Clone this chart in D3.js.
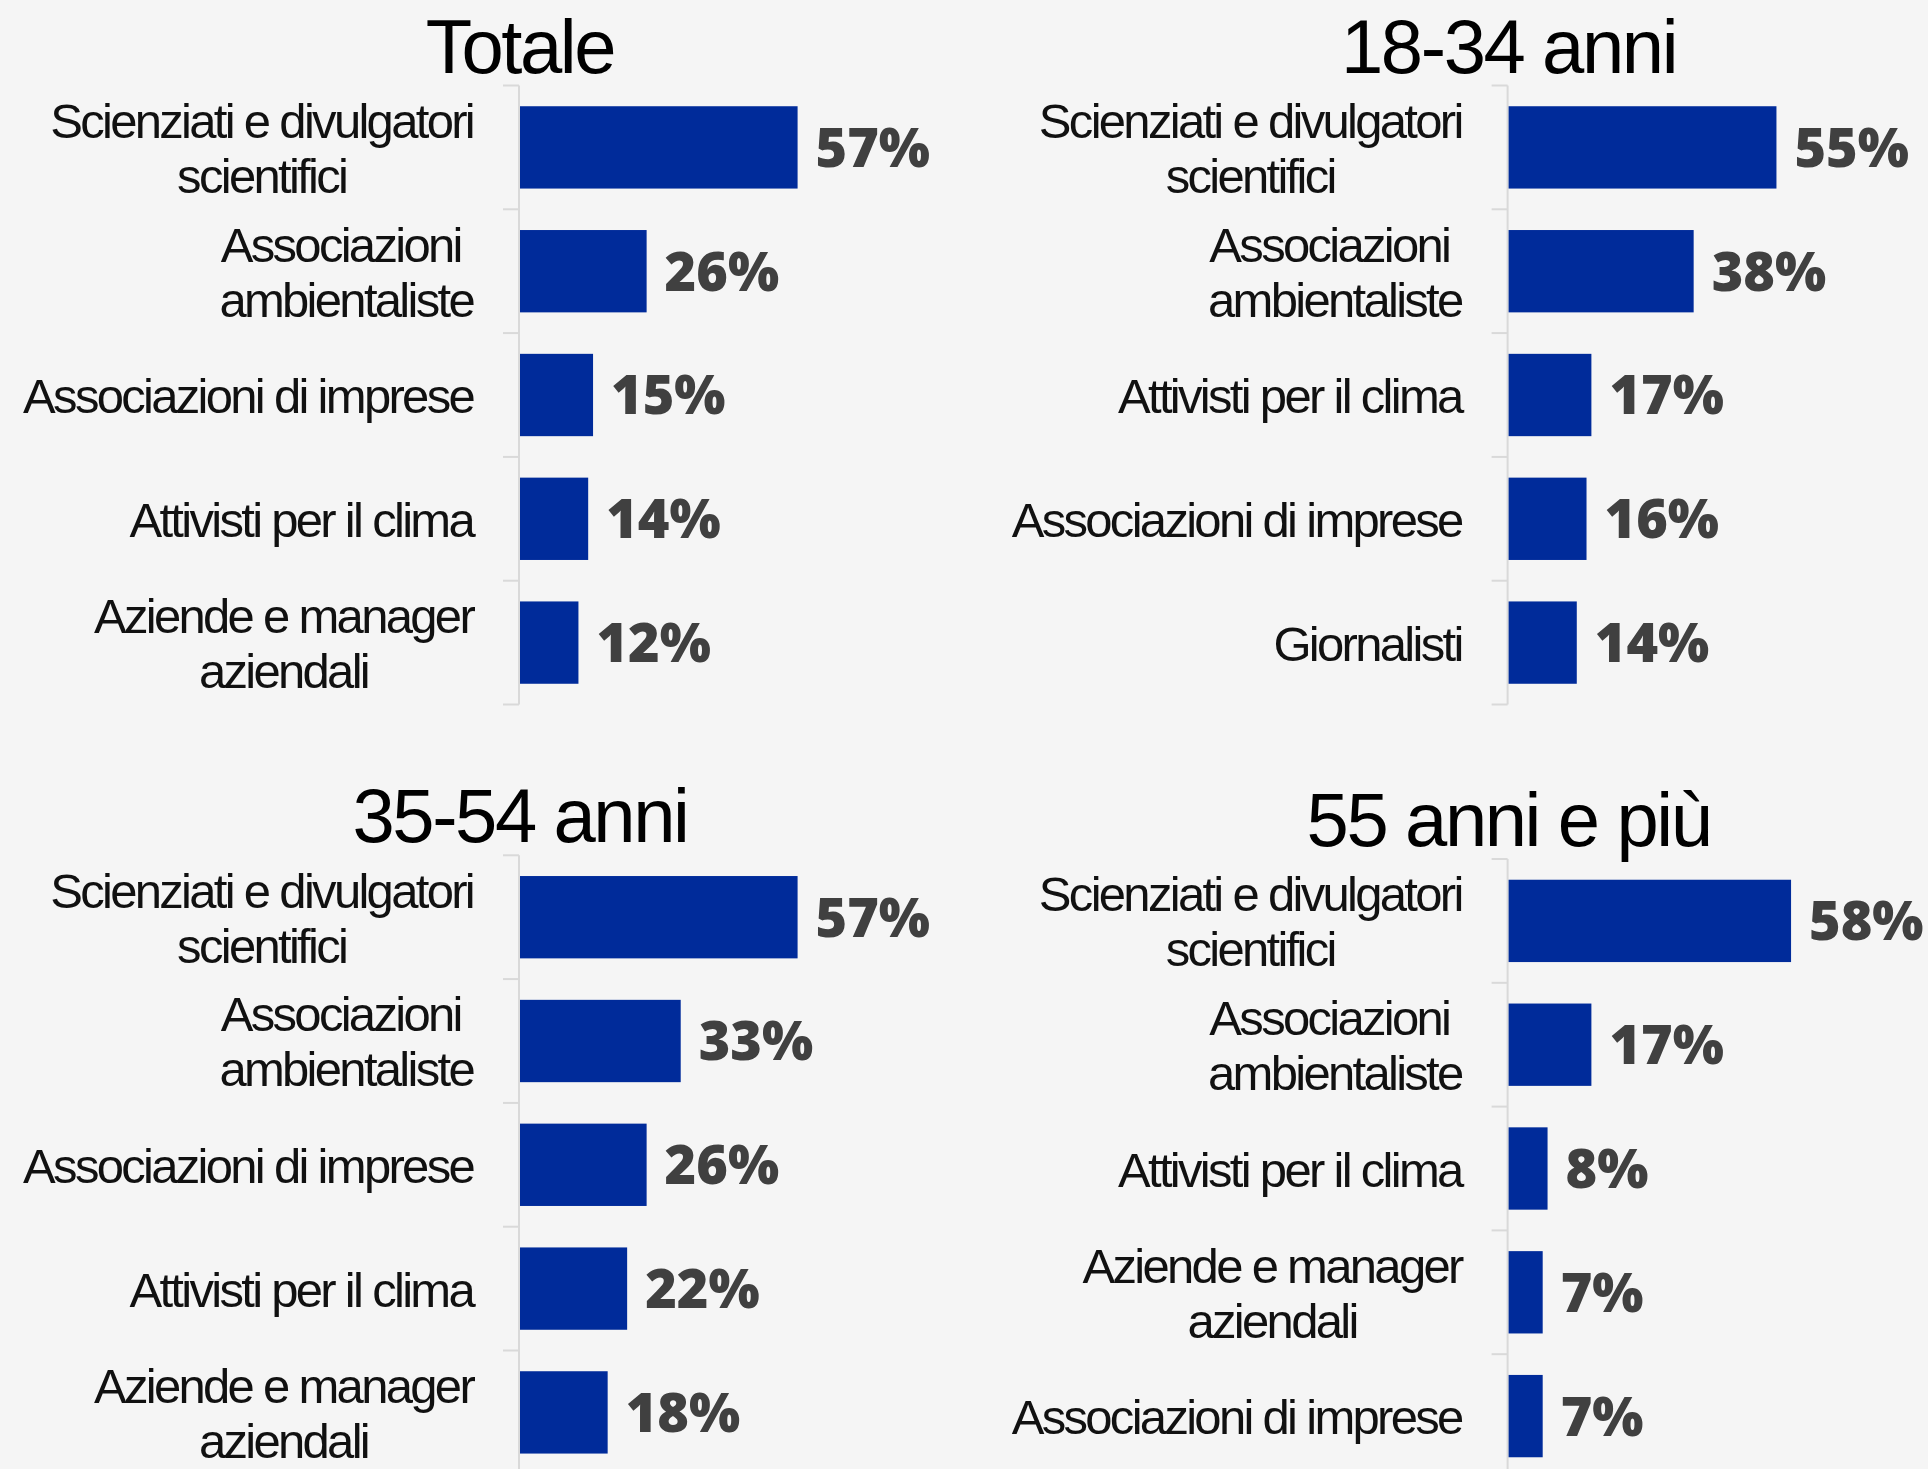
<!DOCTYPE html>
<html>
<head>
<meta charset="utf-8">
<title>Fiducia sul clima</title>
<script src="https://d3js.org/d3.v7.min.js"></script>
<style>
  body { margin: 0; background: #f5f5f5; }
  svg { display: block; }
  .title { font-family: "Liberation Sans", Arial, sans-serif; font-size: 76px; letter-spacing: -2.4px; fill: #000; }
  .lbl { font-family: "Liberation Sans", Arial, sans-serif; font-size: 49px; letter-spacing: -2.7px; fill: #111; white-space: pre; }
  .val { font-family: "Open Sans", sans-serif; font-weight: 800; font-size: 54px; fill: #404040; }
</style>
</head>
<body>
<svg width="1928" height="1469"></svg>
<script>
// titoli dei quattro pannelli
var titles = ["Totale", "18-34 anni", "35-54 anni", "55 anni e più"];

// categorie (il "|" separa le righe dell'etichetta)
var catTotale = ["Scienziati e divulgatori|scientifici", "Associazioni |ambientaliste", "Associazioni di imprese", "Attivisti per il clima", "Aziende e manager|aziendali"];
var cat1834 = ["Scienziati e divulgatori|scientifici", "Associazioni |ambientaliste", "Attivisti per il clima", "Associazioni di imprese", "Giornalisti"];
var cat3554 = ["Scienziati e divulgatori|scientifici", "Associazioni |ambientaliste", "Associazioni di imprese", "Attivisti per il clima", "Aziende e manager|aziendali"];
var cat55 = ["Scienziati e divulgatori|scientifici", "Associazioni |ambientaliste", "Attivisti per il clima", "Aziende e manager|aziendali", "Associazioni di imprese"];

// valori in %
var valTotale = [57, 26, 15, 14, 12];
var val1834 = [55, 38, 17, 16, 14];
var val3554 = [57, 33, 26, 22, 18];
var val55 = [58, 17, 8, 7, 7];

var panels = [
  {title: titles[0], cats: catTotale, vals: valTotale, ax: 520, top: 85.5},
  {title: titles[1], cats: cat1834, vals: val1834, ax: 1508.6, top: 85.5},
  {title: titles[2], cats: cat3554, vals: val3554, ax: 520, top: 855.3},
  {title: titles[3], cats: cat55, vals: val55, ax: 1508.6, top: 859}
];

var svg = d3.select("svg");
svg.append("rect").attr("width", 1928).attr("height", 1469).attr("fill", "#f5f5f5");

var x = d3.scaleLinear().domain([0, 100]).range([0, 487]);
var pad = 0.335;

panels.forEach(function(p) {
  var idx = d3.range(p.cats.length);
  var y = d3.scaleBand().domain(idx).range([0, 619]).paddingInner(pad).paddingOuter(pad / 2);
  var g = svg.append("g").attr("transform", "translate(" + p.ax + "," + p.top + ")");

  g.append("text").attr("class", "title")
    .attr("x", 0).attr("y", -13)
    .attr("text-anchor", "middle")
    .text(p.title);

  // linea dell'asse e tacche ai bordi delle bande
  g.append("line").attr("x1", -1).attr("x2", -1)
    .attr("y1", 0).attr("y2", 619)
    .attr("stroke", "#d9d9d9").attr("stroke-width", 2);
  var bounds = d3.range(p.cats.length + 1).map(function(i) { return i * y.step(); });
  g.selectAll(".tick").data(bounds).enter().append("line")
    .attr("x1", -17).attr("x2", -1)
    .attr("y1", function(d) { return d; }).attr("y2", function(d) { return d; })
    .attr("stroke", "#d9d9d9").attr("stroke-width", 2);

  g.selectAll(".bar").data(idx).enter().append("rect")
    .attr("x", 0)
    .attr("y", function(i) { return y(i); })
    .attr("width", function(i) { return x(p.vals[i]); })
    .attr("height", y.bandwidth())
    .attr("fill", "#002b9a");

  g.selectAll(".val").data(idx).enter().append("text")
    .attr("class", "val")
    .attr("x", function(i) { return x(p.vals[i]) + 18; })
    .attr("y", function(i) { return y(i) + y.bandwidth() / 2; })
    .attr("dy", "0.36em")
    .text(function(i) { return p.vals[i] + "%"; });

  // etichette: blocco allineato a destra, righe centrate fra loro
  g.selectAll(".lbl").data(idx).enter().append("text")
    .attr("class", "lbl")
    .attr("text-anchor", "middle")
    .attr("y", function(i) { return y(i) + y.bandwidth() / 2; })
    .each(function(i) {
      var lines = p.cats[i].split("|");
      var t = d3.select(this);
      var spans = lines.map(function(s, k) {
        return t.append("tspan")
          .attr("dy", k === 0 ? (18 - (lines.length - 1) * 27.5) : 55)
          .text(s);
      });
      var w = d3.max(spans, function(sp) { return sp.node().getComputedTextLength(); });
      spans.forEach(function(sp) { sp.attr("x", -47 - w / 2); });
    });
});
</script>
</body>
</html>
